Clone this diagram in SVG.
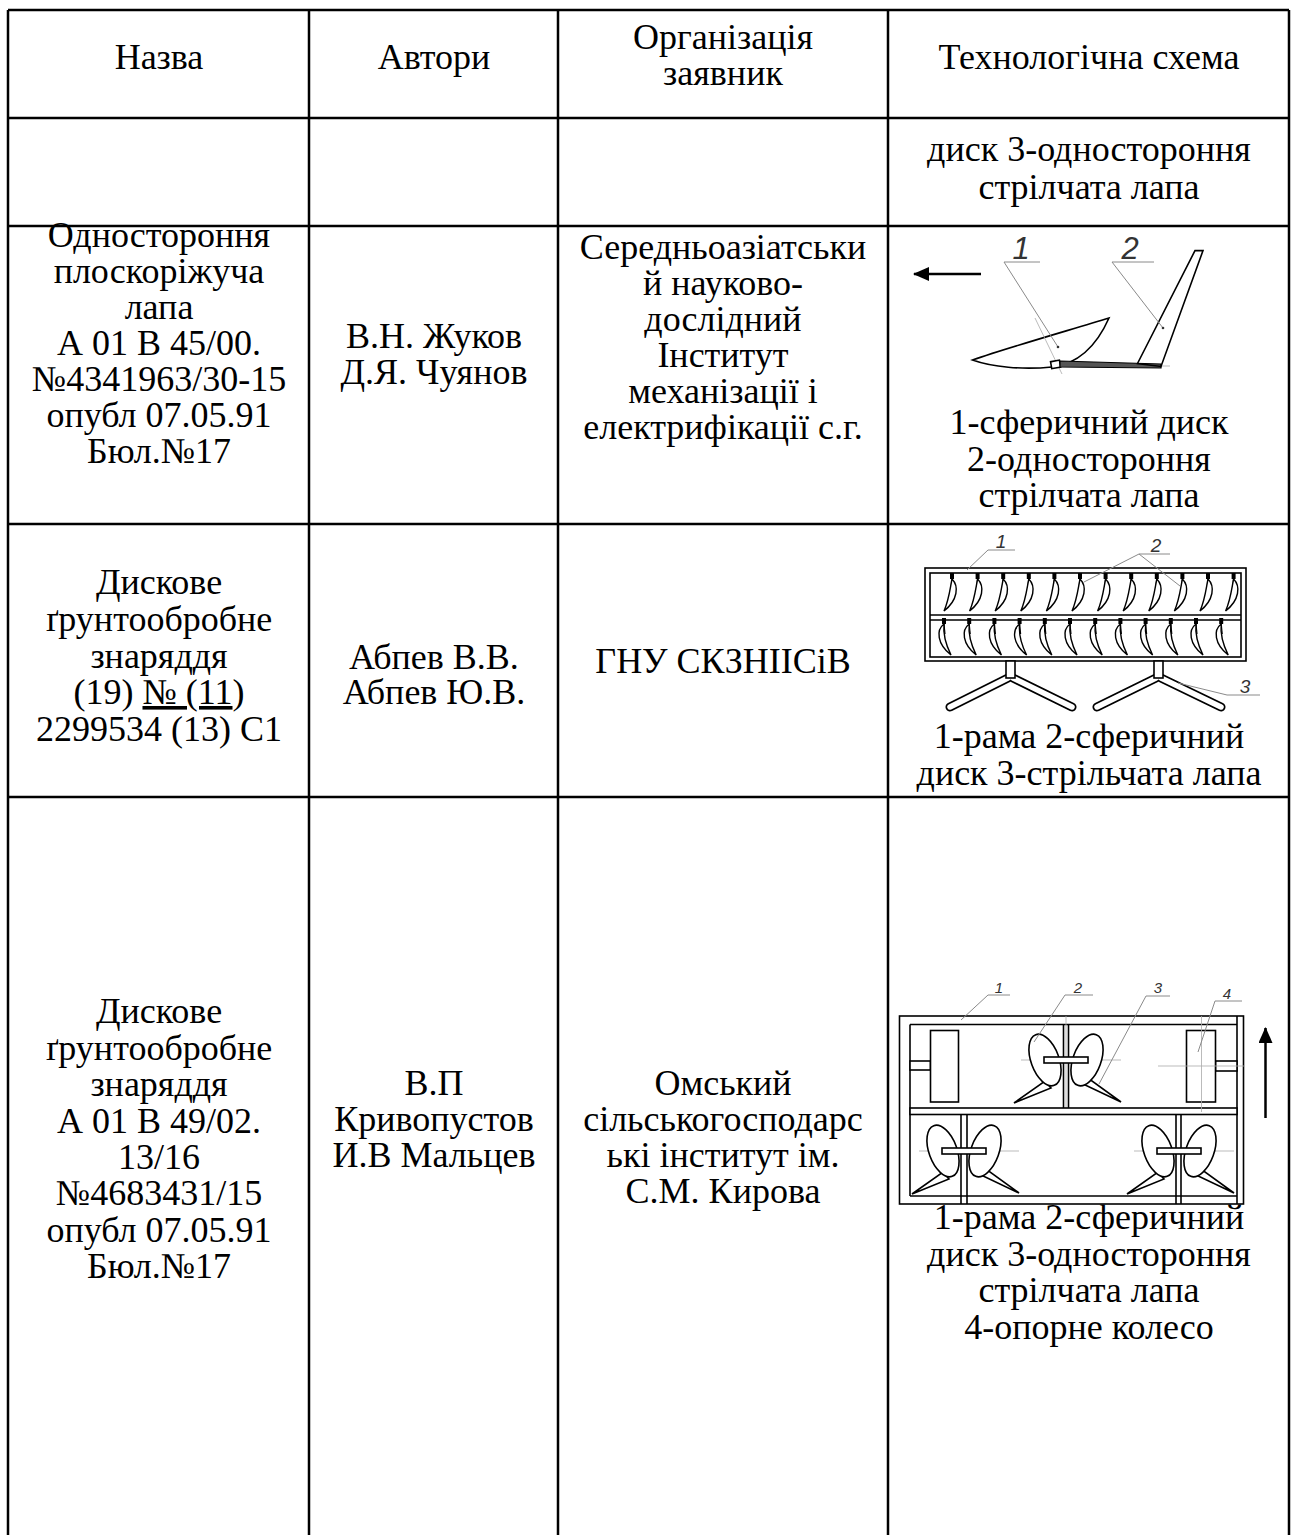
<svg xmlns="http://www.w3.org/2000/svg" xmlns:xlink="http://www.w3.org/1999/xlink" width="1300" height="1535" viewBox="0 0 1300 1535">
<style>
.t{font-family:"Liberation Serif","Times New Roman",serif;font-size:36px;text-anchor:middle;fill:#000}
.g{stroke:#000;stroke-width:2.5;fill:none}
.lead{stroke:#8a8a8a;stroke-width:1;fill:none}
.num{font-family:"Liberation Sans",Arial,sans-serif;font-style:italic;fill:#333;text-anchor:middle}
.ln{stroke:#000;stroke-width:1.6;fill:none}
.lnw{stroke:#000;stroke-width:1.6;fill:#fff}
.cl{stroke:#aaa;stroke-width:0.8;fill:none}
</style>
<defs>
<marker id="ah" viewBox="0 0 16 14" refX="15" refY="7" markerWidth="16" markerHeight="14" markerUnits="userSpaceOnUse" orient="auto">
<path d="M0,0 L16,7 L0,14 Z" fill="#000"/>
</marker>
<g id="dtop">
<rect x="-2" y="-3" width="4" height="6" fill="#000"/>
<line x1="0" y1="3" x2="-1" y2="12" stroke="#000" stroke-width="1.2"/>
<path d="M0,3 C7,10 6,24 -8,35 C-3,24 -2,13 0,3 Z" fill="#fff" stroke="#000" stroke-width="1.4"/>
</g>
<g id="dbot">
<rect x="-2" y="-3" width="4" height="6" fill="#000"/>
<line x1="0" y1="3" x2="1" y2="13" stroke="#000" stroke-width="1.2"/>
<path d="M0,3 C-8,9 -7,23 7,34 C2,24 -1,13 0,3 Z" fill="#fff" stroke="#000" stroke-width="1.4"/>
</g>
<g id="asm">
<line x1="-45" y1="0" x2="55" y2="0" class="cl"/>
<polygon points="-52,43 -21,21 -15,28" class="lnw"/>
<polygon points="55,42 22,18 17,24" class="lnw"/>
<ellipse cx="-21" cy="0" rx="14" ry="27" transform="rotate(-20 -21 0)" class="lnw"/>
<ellipse cx="21" cy="0" rx="14" ry="27" transform="rotate(20 21 0)" class="lnw"/>
<rect x="-22" y="-3" width="44" height="6" class="lnw"/>
</g>
</defs>

<g id="table">
<line x1="8" y1="10" x2="1289" y2="10" class="g"/>
<line x1="8" y1="118" x2="1289" y2="118" class="g"/>
<line x1="8" y1="226" x2="1289" y2="226" class="g"/>
<line x1="8" y1="524" x2="1289" y2="524" class="g"/>
<line x1="8" y1="797" x2="1289" y2="797" class="g"/>
<line x1="8" y1="10" x2="8" y2="1535" class="g"/>
<line x1="309" y1="10" x2="309" y2="1535" class="g"/>
<line x1="558" y1="10" x2="558" y2="1535" class="g"/>
<line x1="888" y1="10" x2="888" y2="1535" class="g"/>
<line x1="1289" y1="10" x2="1289" y2="1535" class="g"/>
</g>

<g id="header">
<text class="t" x="159" y="69">Назва</text>
<text class="t" x="434" y="69">Автори</text>
<text class="t" x="723" y="49">Організація</text>
<text class="t" x="723" y="85">заявник</text>
<text class="t" x="1089" y="69">Технологічна схема</text>
</g>

<g id="row2">
<text class="t" x="1089" y="161">диск 3-одностороння</text>
<text class="t" x="1089" y="199">стрілчата лапа</text>
</g>

<g id="row3-name">
<text class="t" x="159" y="247">Одностороння</text>
<text class="t" x="159" y="283">плоскоріжуча</text>
<text class="t" x="159" y="319">лапа</text>
<text class="t" x="159" y="355">А 01 В 45/00.</text>
<text class="t" x="159" y="391">№4341963/30-15</text>
<text class="t" x="159" y="427">опубл 07.05.91</text>
<text class="t" x="159" y="463">Бюл.№17</text>
</g>
<g id="row3-authors">
<text class="t" x="434" y="348">В.Н. Жуков</text>
<text class="t" x="434" y="384">Д.Я. Чуянов</text>
</g>
<g id="row3-org">
<text class="t" x="723" y="259">Середньоазіатськи</text>
<text class="t" x="723" y="295">й науково-</text>
<text class="t" x="723" y="331">дослідний</text>
<text class="t" x="723" y="367">Інститут</text>
<text class="t" x="723" y="403">механізації і</text>
<text class="t" x="723" y="439">електрифікації с.г.</text>
</g>
<g id="row3-scheme">
<line x1="981" y1="274" x2="914" y2="274" stroke="#000" stroke-width="2.5" marker-end="url(#ah)"/>
<path d="M972.5,360 C1010,347 1070,330 1109,318 C1097,345 1078,364 1052,367 C1022,370 992,367 972.5,360 Z" class="ln"/>
<line x1="1035" y1="318" x2="1062" y2="374" class="cl" stroke="#888"/>
<rect x="1051" y="361" width="9" height="7" transform="rotate(-10 1055 364)" class="lnw"/>
<path d="M1060,361 L1161,364 L1161,368 L1060,367 Z" fill="#555" stroke="#000" stroke-width="1.2"/>
<line x1="1161" y1="366" x2="1170" y2="366" class="cl"/>
<polygon points="1137.5,363.5 1195,250.6 1203,250.6 1161,366.5" class="ln"/>
<polyline points="1040,262 1004,262 1058,347" class="lead"/>
<polyline points="1154,262 1112,262 1163,328" class="lead"/>
<circle cx="1058" cy="347" r="1.3" fill="#333"/>
<circle cx="1163" cy="328" r="1.3" fill="#333"/>
<text class="num" x="1021" y="259" font-size="31">1</text>
<text class="num" x="1130" y="259" font-size="31">2</text>
<text class="t" x="1089" y="434">1-сферичний диск</text>
<text class="t" x="1089" y="471">2-одностороння</text>
<text class="t" x="1089" y="507">стрілчата лапа</text>
</g>

<g id="row4-name">
<text class="t" x="159" y="594">Дискове</text>
<text class="t" x="159" y="631">ґрунтообробне</text>
<text class="t" x="159" y="668">знаряддя</text>
<text class="t" x="159" y="704">(19) <tspan text-decoration="underline">№ (11</tspan>)</text>
<text class="t" x="159" y="741">2299534 (13) С1</text>
</g>
<g id="row4-authors">
<text class="t" x="434" y="669">Абпев В.В.</text>
<text class="t" x="434" y="704">Абпев Ю.В.</text>
</g>
<g id="row4-org">
<text class="t" x="723" y="673">ГНУ СКЗНІІСіВ</text>
</g>
<g id="row4-scheme">
<rect x="925" y="568" width="321" height="93" class="ln"/>
<rect x="930" y="573" width="311" height="84" class="ln"/>
<line x1="930" y1="615" x2="1241" y2="615" class="ln"/>
<line x1="930" y1="620" x2="1241" y2="620" class="ln"/>
<use xlink:href="#dtop" x="952" y="576"/>
<use xlink:href="#dtop" x="977.6" y="576"/>
<use xlink:href="#dtop" x="1003.2" y="576"/>
<use xlink:href="#dtop" x="1028.8" y="576"/>
<use xlink:href="#dtop" x="1054.4" y="576"/>
<use xlink:href="#dtop" x="1080" y="576"/>
<use xlink:href="#dtop" x="1105.6" y="576"/>
<use xlink:href="#dtop" x="1131.2" y="576"/>
<use xlink:href="#dtop" x="1156.8" y="576"/>
<use xlink:href="#dtop" x="1182.4" y="576"/>
<use xlink:href="#dtop" x="1208" y="576"/>
<use xlink:href="#dtop" x="1233.6" y="576"/>
<use xlink:href="#dbot" x="944" y="621"/>
<use xlink:href="#dbot" x="969.2" y="621"/>
<use xlink:href="#dbot" x="994.4" y="621"/>
<use xlink:href="#dbot" x="1019.6" y="621"/>
<use xlink:href="#dbot" x="1044.8" y="621"/>
<use xlink:href="#dbot" x="1070" y="621"/>
<use xlink:href="#dbot" x="1095.2" y="621"/>
<use xlink:href="#dbot" x="1120.4" y="621"/>
<use xlink:href="#dbot" x="1145.6" y="621"/>
<use xlink:href="#dbot" x="1170.8" y="621"/>
<use xlink:href="#dbot" x="1196" y="621"/>
<use xlink:href="#dbot" x="1221.2" y="621"/>
<path d="M1008,678 L950,707 M1013,678 L1072,707 M1156,678 L1097,707 M1161,678 L1221,707" stroke="#000" stroke-width="9" stroke-linecap="round" fill="none"/>
<path d="M1008,678 L950,707 M1013,678 L1072,707 M1156,678 L1097,707 M1161,678 L1221,707" stroke="#fff" stroke-width="5.5" stroke-linecap="round" fill="none"/>
<rect x="1006" y="661" width="9" height="17" class="lnw"/>
<rect x="1154" y="661" width="9" height="17" class="lnw"/>
<polyline points="1015,550 988,550 967,570" class="lead"/>
<polyline points="1170,554 1139,554 1084,582" class="lead"/>
<line x1="1139" y1="554" x2="1180" y2="586" class="lead"/>
<polyline points="1260,695 1227,695 1178,683" class="lead"/>
<text class="num" x="1001" y="548" font-size="19">1</text>
<text class="num" x="1156" y="552" font-size="19">2</text>
<text class="num" x="1245" y="693" font-size="19">3</text>
<text class="t" x="1089" y="748">1-рама 2-сферичний</text>
<text class="t" x="1089" y="785">диск 3-стрільчата лапа</text>
</g>

<g id="row5-name">
<text class="t" x="159" y="1023">Дискове</text>
<text class="t" x="159" y="1060">ґрунтообробне</text>
<text class="t" x="159" y="1096">знаряддя</text>
<text class="t" x="159" y="1133">А 01 В 49/02.</text>
<text class="t" x="159" y="1169">13/16</text>
<text class="t" x="159" y="1205">№4683431/15</text>
<text class="t" x="159" y="1242">опубл 07.05.91</text>
<text class="t" x="159" y="1278">Бюл.№17</text>
</g>
<g id="row5-authors">
<text class="t" x="434" y="1095">В.П</text>
<text class="t" x="434" y="1131">Кривопустов</text>
<text class="t" x="434" y="1167">И.В Мальцев</text>
</g>
<g id="row5-org">
<text class="t" x="723" y="1095">Омський</text>
<text class="t" x="723" y="1131">сільськогосподарс</text>
<text class="t" x="723" y="1167">ькі інститут ім.</text>
<text class="t" x="723" y="1203">С.М. Кирова</text>
</g>
<g id="row5-scheme">
<rect x="899.5" y="1016" width="344" height="188" class="ln"/>
<line x1="910" y1="1024.5" x2="1237" y2="1024.5" class="ln"/>
<line x1="910" y1="1024.5" x2="910" y2="1196" class="ln"/>
<line x1="910" y1="1196" x2="1237" y2="1196" class="ln"/>
<line x1="1237" y1="1016" x2="1237" y2="1204" class="ln"/>
<line x1="1066" y1="1016" x2="1066" y2="1112" class="cl"/>
<line x1="1063.5" y1="1024.5" x2="1063.5" y2="1108" class="ln"/>
<line x1="1068.5" y1="1024.5" x2="1068.5" y2="1108" class="ln"/>
<line x1="961" y1="1114.5" x2="961" y2="1204" class="ln"/>
<line x1="967" y1="1114.5" x2="967" y2="1204" class="ln"/>
<line x1="1176" y1="1114.5" x2="1176" y2="1204" class="ln"/>
<line x1="1181" y1="1114.5" x2="1181" y2="1204" class="ln"/>
<rect x="910" y="1108" width="327" height="6.5" class="lnw"/>
<rect x="910" y="1061" width="20.5" height="9" class="lnw"/>
<rect x="930.5" y="1030.5" width="28" height="71.5" class="lnw"/>
<rect x="1215.5" y="1061" width="21.5" height="10" class="lnw"/>
<rect x="1186.5" y="1030.5" width="29" height="71.5" class="lnw"/>
<line x1="1158" y1="1066" x2="1245" y2="1066" class="cl"/>
<line x1="1201.5" y1="1016" x2="1201.5" y2="1112" class="cl"/>
<use xlink:href="#asm" x="1066" y="1060"/>
<use xlink:href="#asm" x="964" y="1151"/>
<use xlink:href="#asm" x="1179" y="1151"/>
<polyline points="1010,995 988,995 961,1020" class="lead"/>
<polyline points="1093,995 1065,995 1034,1042" class="lead"/>
<polyline points="1170,996 1146,996 1099,1084" class="lead"/>
<polyline points="1242,1001 1215,1001 1198,1052" class="lead"/>
<text class="num" x="999" y="993" font-size="15">1</text>
<text class="num" x="1078" y="993" font-size="15">2</text>
<text class="num" x="1158" y="993" font-size="15">3</text>
<text class="num" x="1227" y="999" font-size="15">4</text>
<line x1="1265.5" y1="1118" x2="1265.5" y2="1028" stroke="#000" stroke-width="2.5" marker-end="url(#ah)"/>
<text class="t" x="1089" y="1229">1-рама 2-сферичний</text>
<text class="t" x="1089" y="1266">диск 3-одностороння</text>
<text class="t" x="1089" y="1302">стрілчата лапа</text>
<text class="t" x="1089" y="1339">4-опорне колесо</text>
</g>
</svg>
